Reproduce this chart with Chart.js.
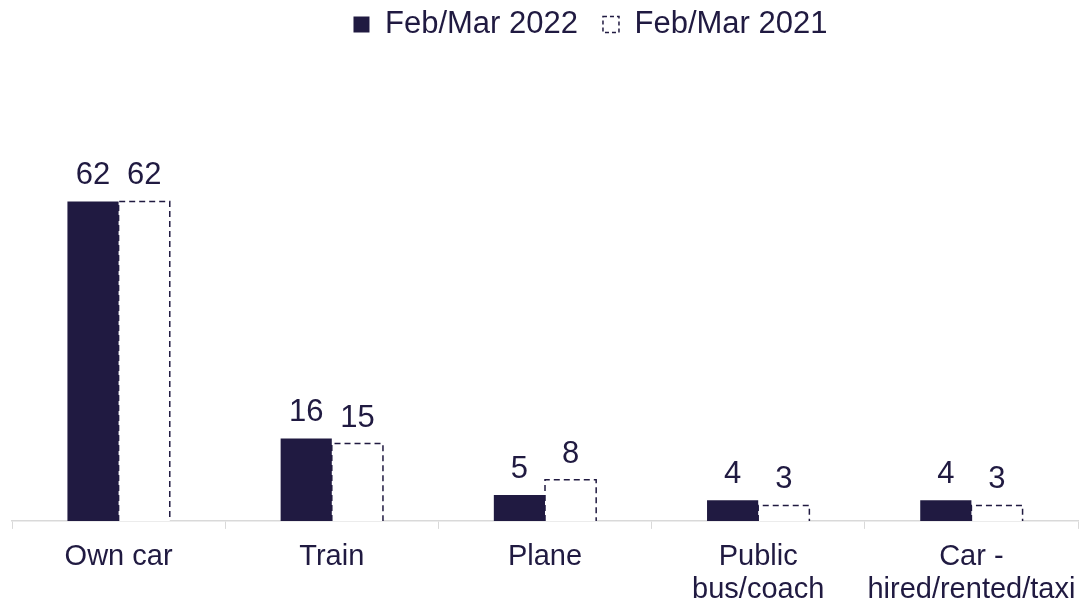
<!DOCTYPE html>
<html>
<head>
<meta charset="utf-8">
<script src="https://cdn.jsdelivr.net/npm/chart.js@4/dist/chart.umd.min.js"></script>
<style>
  html, body { margin: 0; padding: 0; background: #fff; }
  #wrap { width: 1079px; height: 604px; }
</style>
</head>
<body>
<div id="wrap"><canvas id="modeChart"></canvas></div>
<script>
  // data
  let categories = ['Own car', 'Train', 'Plane', ['Public', 'bus/coach'], ['Car -', 'hired/rented/taxi']]
  let values2022 = [62, 16, 5, 4, 4]
  let values2021 = [62, 15, 8, 3, 3]
  let seriesNames = ['Feb/Mar 2022', 'Feb/Mar 2021']

  let navy = '#201a41'
  let font = "'Liberation Sans', Arial, sans-serif"

  // bars in Chart.js can't take a dashed border, so stroke it here from the element geometry
  let dashedBars = {
    id: 'dashedBars',
    afterDatasetsDraw(chart) {
      let ctx = chart.ctx
      let meta = chart.getDatasetMeta(1)
      ctx.save()
      ctx.strokeStyle = navy
      ctx.lineWidth = 1.5
      ctx.setLineDash([6, 4])
      meta.data.forEach((bar) => {
        let left = bar.x - bar.width / 2
        let right = bar.x + bar.width / 2
        ctx.beginPath()
        ctx.moveTo(left, bar.base)
        ctx.lineTo(left, bar.y)
        ctx.lineTo(right, bar.y)
        ctx.lineTo(right, bar.base)
        ctx.stroke()
      })
      ctx.restore()
    }
  }

  let valueLabels = {
    id: 'valueLabels',
    afterDatasetsDraw(chart) {
      let ctx = chart.ctx
      ctx.save()
      ctx.fillStyle = navy
      ctx.font = '31px ' + font
      ctx.textAlign = 'center'
      ctx.textBaseline = 'alphabetic'
      chart.data.datasets.forEach((ds, i) => {
        chart.getDatasetMeta(i).data.forEach((bar, j) => {
          ctx.fillText(ds.data[j], bar.x, bar.y - 17)
        })
      })
      ctx.restore()
    }
  }

  let modeChart = document.getElementById('modeChart').getContext('2d')

  let barChart = new Chart(modeChart, {
    type: 'bar',
    data: {
      labels: categories,
      datasets: [{
        label: seriesNames[0],
        data: values2022,
        backgroundColor: navy,
        borderWidth: 0,
        categoryPercentage: 0.48,
        barPercentage: 1.0
      }, {
        label: seriesNames[1],
        data: values2021,
        backgroundColor: '#ffffff',
        borderWidth: 0,
        categoryPercentage: 0.48,
        barPercentage: 1.0
      }]
    },
    options: {
      responsive: true,
      maintainAspectRatio: false,
      animation: false,
      layout: { padding: { left: 12, right: 1, top: -16, bottom: -15 } },
      plugins: {
        tooltip: { enabled: false },
        legend: {
          position: 'top',
          labels: {
            color: navy,
            font: { family: font, size: 31 },
            boxWidth: 16,
            boxHeight: 16,
            padding: 25,
            generateLabels(chart) {
              return [
                // blank spacer so the legend sits right of centre like the original
                { text: '    ', fillStyle: 'rgba(0,0,0,0)', strokeStyle: 'rgba(0,0,0,0)', lineWidth: 0, fontColor: navy },
                { text: seriesNames[0], fillStyle: navy, strokeStyle: navy, lineWidth: 0, datasetIndex: 0, fontColor: navy },
                { text: seriesNames[1], fillStyle: '#ffffff', strokeStyle: navy, lineWidth: 1.5, lineDash: [4, 3], datasetIndex: 1, fontColor: navy }
              ]
            }
          }
        }
      },
      scales: {
        x: {
          offset: true,
          // the last label is as wide as its slot, don't let it squeeze the plot
          afterFit(scale) {
            scale.paddingRight = 0
            scale.paddingLeft = 0
          },
          grid: {
            offset: true,
            drawOnChartArea: false,
            color: '#d9d9d9',
            tickLength: 8,
            tickColor: '#d9d9d9'
          },
          border: { color: '#d9d9d9', width: 1.5 },
          ticks: {
            color: navy,
            maxRotation: 0,
            autoSkip: false,
            padding: 12,
            font: { family: font, size: 29, lineHeight: 1.14 }
          }
        },
        y: {
          display: false,
          min: 0,
          max: 91.4
        }
      }
    },
    plugins: [dashedBars, valueLabels]
  })
</script>
</body>
</html>
